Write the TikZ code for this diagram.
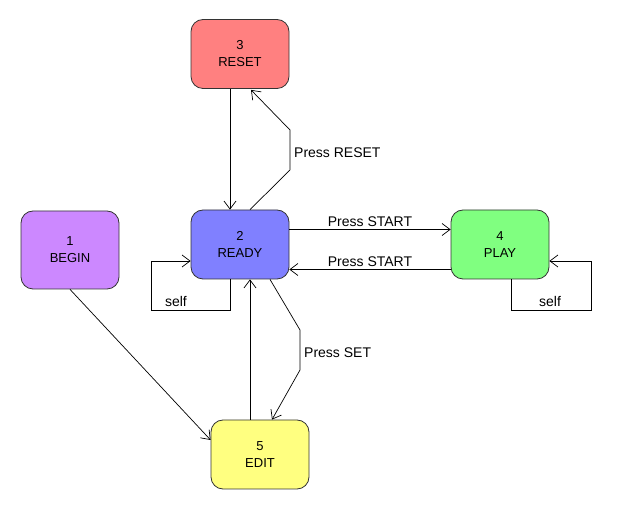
\documentclass[tikz,border=0pt]{standalone}
\usepackage{fontspec}
\setmainfont{Liberation Sans}
\usetikzlibrary{arrows.meta}
\definecolor{cbegin}{RGB}{204,136,255}
\definecolor{cready}{RGB}{128,128,255}
\definecolor{creset}{RGB}{255,128,128}
\definecolor{cplay}{RGB}{128,255,128}
\definecolor{cedit}{RGB}{255,255,128}
\begin{document}
\begin{tikzpicture}[x=1pt,y=-1pt,
  state/.style={draw=black!80, line width=0.8pt, rounded corners=12pt, minimum width=98pt, minimum height=69pt, align=center, inner sep=0pt, font=\fontsize{13}{17}\selectfont},
  conn/.style={draw, line width=0.7pt, -{Straight Barb[length=8pt,width=12pt,line width=0.7pt]}},
  lbl/.style={font=\fontsize{14}{16}\selectfont, inner sep=1pt}]
\useasboundingbox (0,0) rectangle (630,510);
\node[state, fill=creset] (reset) at (240,54) {3\\RESET};
\node[state, fill=cready] (ready) at (240,244.5) {2\\READY};
\node[state, fill=cbegin, minimum height=78pt] (begin) at (70,250) {1\\BEGIN};
\node[state, fill=cplay] (play) at (500,244.5) {4\\PLAY};
\node[state, fill=cedit] (edit) at (260,454.5) {5\\EDIT};
% RESET -> READY
\draw[conn] ([xshift=-10pt]reset.south) -- ([xshift=-10pt]ready.north);
% READY -> RESET
\coordinate (r1) at (290,170);
\coordinate (r2) at (290,130);
\draw[conn] ([xshift=10pt]ready.north) -- (r1) -- (r2) -- ([xshift=11pt,yshift=-1pt]reset.south);
\node[lbl, anchor=west] (lreset) at (293,153) {Press RESET};
% READY <-> PLAY
\draw[conn] ([yshift=15pt]ready.east) -- node[lbl, above, yshift=2pt] (lstart1) {Press START} ([yshift=15pt]play.west);
\draw[conn] ([yshift=-25pt]play.west) -- node[lbl, above, yshift=2pt] (lstart2) {Press START} ([yshift=-25pt]ready.east);
% READY self
\coordinate (s1) at (151,310);
\draw[conn] ([xshift=-10pt]ready.south) |- (s1) |- ([yshift=-16.5pt]ready.west);
\node[lbl] (lself1) at (176,301) {self};
% PLAY self
\coordinate (s2) at (591,310);
\draw[conn] ([xshift=11pt]play.south) |- (s2) |- ([yshift=-16.5pt]play.east);
\node[lbl] (lself2) at (550,301) {self};
% READY -> EDIT
\coordinate (e1) at (300,330);
\coordinate (e2) at (300,370);
\draw[conn] ([xshift=30pt]ready.south) -- (e1) -- (e2) -- ([xshift=12pt]edit.north);
\node[lbl, anchor=west] (lset) at (303,353) {Press SET};
% EDIT -> READY
\draw[conn] ([xshift=-10pt]edit.north) -- ([xshift=10pt]ready.south);
% BEGIN -> EDIT
\draw[conn] (begin.south) -- ([yshift=14.5pt]edit.west);
\end{tikzpicture}
\end{document}
